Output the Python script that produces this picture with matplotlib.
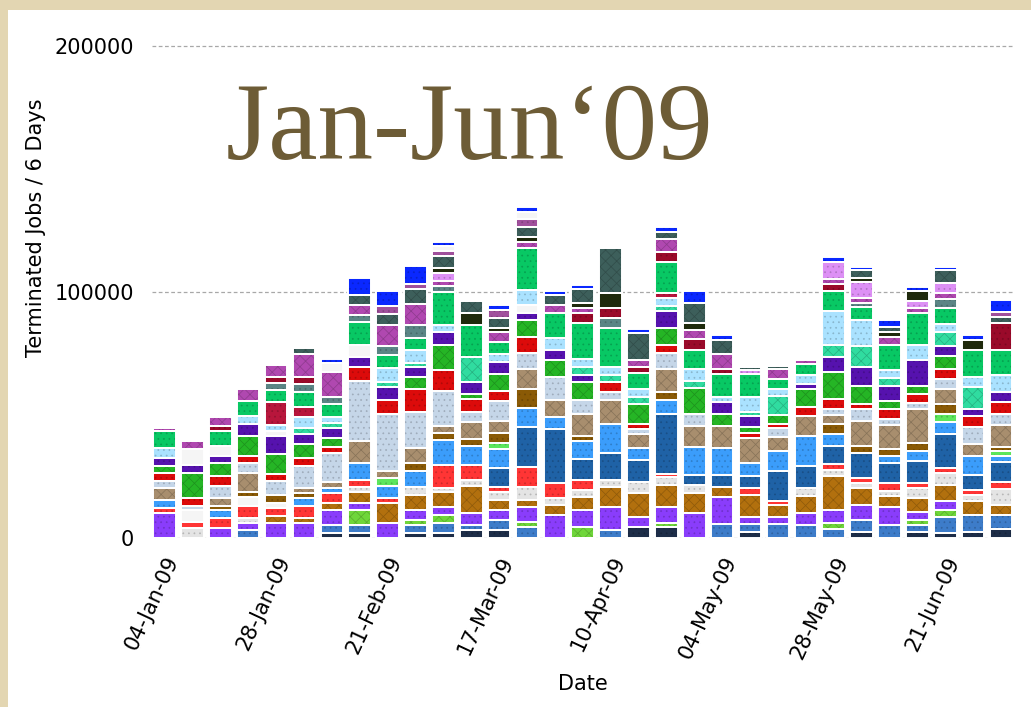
import matplotlib
matplotlib.use("Agg")
import matplotlib.pyplot as plt
import matplotlib.transforms as mtransforms
from matplotlib.colors import to_rgb
from matplotlib.patches import Rectangle

# terminated jobs per 6-day bin, in thousands, one list per site (bottom -> top)
navy = [0, 0, 0, 0, 0, 0, 1.9, 2.2, 0, 2.2, 2.2, 3.3, 3.3, 0, 0, 0, 0, 4.3, 4.3, 0, 0, 2.6, 0, 0, 0, 2.6, 0, 2.6, 2.2, 2.6, 3.5]
steel = [0, 0, 0, 3.3, 0, 0, 3.4, 3.1, 0, 3.1, 4.1, 2.0, 4.1, 4.3, 0, 0, 3.3, 0, 0, 0, 5.7, 3.1, 5.7, 5.3, 3.5, 4.7, 5.3, 2.7, 6.2, 6.8, 5.8]
lime = [0, 0, 0, 0, 0, 0, 0, 6.1, 0, 2.0, 3.1, 0, 0, 2.3, 0, 4.3, 0, 0, 1.9, 0, 0, 0, 0, 0, 2.7, 0, 0, 2.0, 3.0, 0, 0]
violet = [10.3, 0, 4.2, 2.7, 6.2, 6.2, 6.1, 3.0, 6.2, 4.1, 3.1, 5.0, 4.1, 6.1, 9.3, 7.0, 9.2, 4.1, 6.2, 10.3, 10.8, 2.7, 2.7, 5.0, 5.1, 6.1, 7.2, 3.4, 3.8, 0, 0]
ochre = [0, 0, 0, 0, 2.8, 2.0, 3.0, 4.1, 8.1, 6.1, 6.0, 10.8, 4.1, 2.7, 4.1, 5.4, 8.1, 10.0, 9.1, 8.1, 4.1, 9.1, 5.0, 6.8, 13.8, 6.8, 4.6, 5.4, 6.4, 5.8, 4.1]
dots = [0, 4.2, 0, 2.3, 0, 0, 0, 2.2, 0, 3.1, 1.8, 2.4, 3.0, 5.4, 2.7, 2.7, 3.0, 4.5, 3.1, 3.1, 0, 0, 0, 3.1, 2.4, 2.3, 2.2, 4.1, 5.0, 2.3, 6.4]
red = [2.0, 2.5, 4.1, 4.9, 3.3, 4.9, 3.8, 3.0, 1.8, 0, 9.5, 6.1, 2.2, 8.1, 6.1, 4.1, 0, 0, 1.6, 0, 0, 2.7, 1.8, 0, 2.7, 1.8, 3.0, 2.0, 1.8, 2.0, 3.1]
ghost = [0, 4.7, 0, 3.3, 2.0, 0, 0, 0, 0, 0, 0, 0, 0, 0, 0, 0, 0, 0, 0, 0, 0, 0, 0, 0, 0, 0, 0, 0, 0, 0, 0]
royal = [0, 0, 0, 0, 0, 0, 0, 0, 0, 0, 0, 0, 7.7, 16.3, 22.0, 8.8, 10.8, 8.8, 24.4, 4.1, 5.0, 5.0, 12.2, 9.1, 7.0, 10.2, 8.1, 9.2, 14.0, 6.1, 8.1]
sky = [3.1, 0, 3.1, 0, 0, 3.3, 2.0, 6.8, 5.1, 6.8, 9.9, 7.7, 7.5, 7.5, 5.1, 7.2, 11.9, 4.7, 5.7, 11.5, 10.8, 5.4, 8.1, 12.2, 4.9, 0, 3.0, 4.1, 4.6, 7.7, 2.3]
spring = [0, 0, 0, 0, 0, 0, 0, 0, 3.0, 0, 0, 0, 2.7, 0, 0, 0, 0, 0, 0, 0, 0, 0, 0, 0, 0, 0, 0, 0, 3.5, 0, 2.2]
brown = [0, 0, 1.8, 2.0, 3.1, 2.0, 0, 0, 0, 3.0, 3.0, 3.1, 4.1, 7.7, 0, 1.9, 0, 0, 3.1, 0, 0, 0, 0, 0, 4.1, 3.0, 2.7, 3.0, 4.1, 0, 1.6]
tan = [4.9, 0, 3.0, 7.9, 0, 1.8, 2.7, 8.8, 3.1, 6.1, 2.7, 6.8, 4.7, 8.1, 7.0, 9.2, 9.8, 5.8, 9.1, 8.4, 9.1, 9.9, 5.7, 7.9, 3.7, 9.9, 9.9, 13.8, 6.0, 5.1, 8.8]
pale = [3.0, 1.8, 5.1, 4.1, 5.8, 9.2, 11.5, 24.4, 23.3, 14.9, 14.2, 4.1, 8.1, 6.8, 9.2, 5.7, 3.1, 2.3, 6.8, 5.1, 0, 0, 3.4, 0, 2.7, 5.0, 2.3, 2.4, 4.1, 6.8, 4.5]
scarlet = [3.0, 3.2, 3.9, 3.0, 3.0, 3.0, 2.7, 5.8, 5.7, 9.1, 8.8, 5.1, 4.1, 6.5, 0, 0, 4.3, 2.0, 3.1, 0, 0, 2.0, 1.8, 3.8, 4.1, 2.2, 4.1, 3.8, 4.1, 4.3, 5.0]
green = [3.0, 9.9, 5.1, 7.9, 8.1, 5.8, 3.4, 0, 0, 5.1, 10.2, 2.0, 6.8, 6.8, 6.8, 7.2, 0, 8.1, 6.8, 10.2, 5.1, 2.7, 3.7, 7.3, 10.8, 7.0, 3.1, 3.3, 5.1, 0, 0]
indigo = [3.1, 3.5, 3.0, 5.1, 7.0, 4.1, 4.1, 4.1, 5.1, 4.1, 5.0, 5.0, 5.0, 2.7, 4.1, 2.7, 0, 0, 7.2, 0, 4.7, 4.3, 0, 2.2, 6.1, 7.9, 6.1, 10.6, 4.1, 3.1, 4.1]
haze = [0, 6.4, 4.1, 0, 2.0, 0, 0, 5.0, 0, 0, 0, 0, 0, 3.4, 0, 0, 0, 0, 0, 0, 0, 0, 0, 0, 0, 0, 0, 0, 0, 0, 0]
teal = [0, 0, 0, 0, 0, 2.3, 2.0, 0, 2.0, 1.6, 0, 10.2, 0, 0, 0, 3.4, 2.7, 2.7, 1.9, 3.1, 0, 1.8, 7.5, 0, 4.7, 8.4, 3.4, 0, 5.7, 8.8, 0]
cyan = [4.1, 0, 0, 3.0, 2.8, 4.7, 2.7, 0, 5.8, 5.1, 3.1, 0, 3.1, 6.1, 5.1, 3.0, 3.4, 3.4, 3.1, 4.6, 2.0, 6.1, 3.0, 3.7, 14.0, 10.8, 3.4, 6.1, 3.1, 4.1, 6.8]
rose = [0, 0, 0, 0, 9.1, 4.1, 0, 0, 0, 0, 0, 0, 0, 0, 0, 0, 0, 0, 2.0, 0, 0, 0, 0, 0, 0, 0, 0, 0, 0, 0, 0]
mint = [6.8, 0, 6.1, 6.1, 5.0, 5.8, 5.1, 9.1, 5.0, 5.1, 13.1, 12.9, 5.0, 16.9, 10.0, 14.9, 15.6, 6.4, 12.9, 8.1, 9.2, 9.2, 4.1, 4.3, 8.1, 5.1, 10.2, 12.9, 6.8, 10.8, 10.2]
sage = [0, 0, 0, 0, 3.0, 3.4, 3.0, 3.1, 3.8, 5.0, 2.7, 0, 0, 0, 0, 0, 4.3, 0, 0, 0, 0, 0, 0, 0, 0, 1.9, 0, 0, 3.4, 0, 0]
crimson = [0, 0, 2.0, 0, 2.2, 3.0, 0, 0, 0, 0, 0, 0, 0, 0, 0, 3.8, 3.8, 2.4, 4.1, 4.1, 2.0, 0, 0, 0, 3.0, 0, 0, 0, 0, 0, 11.1]
magenta = [1.5, 3.3, 3.8, 5.0, 5.0, 9.0, 10.2, 4.1, 8.4, 8.8, 1.8, 0, 4.1, 2.7, 3.1, 2.0, 0, 3.0, 5.1, 3.8, 6.1, 0, 3.8, 1.5, 2.0, 1.8, 3.1, 2.0, 2.7, 0, 0]
lilac = [0, 0, 0, 0, 0, 0, 0, 0, 0, 0, 3.4, 0, 0, 0, 0, 0, 0, 0, 0, 0, 0, 1.6, 0, 0, 6.8, 6.4, 0, 3.1, 4.1, 0, 0]
black = [0, 0, 0, 0, 0, 0, 0, 0, 0, 0, 2.0, 4.9, 1.8, 2.0, 0, 2.3, 6.1, 0, 0, 3.0, 0, 0, 0, 0, 0, 1.8, 1.9, 4.1, 0, 4.3, 0]
slate = [0, 0, 0, 0, 0, 2.8, 0, 3.8, 4.7, 6.1, 5.0, 4.9, 4.1, 4.1, 4.3, 5.8, 18.3, 10.8, 3.0, 8.1, 6.0, 1.5, 1.5, 0, 0, 3.1, 2.2, 0, 5.0, 0, 2.2]
plum = [0, 0, 0, 0, 0, 0, 0, 0, 3.4, 2.0, 1.8, 0, 3.1, 3.0, 0, 0, 0, 0, 0, 0, 0, 0, 0, 0, 0, 0, 0, 0, 0, 0, 1.9]
void = [0, 0, 0, 0, 0, 0, 3.5, 0, 0, 0, 2.3, 0, 0, 3.1, 0, 0, 0, 0, 0, 0, 0, 0, 0, 0, 0, 0, 0, 0, 0, 0, 0]
blue = [0, 0, 0, 0, 0, 0, 1.5, 7.0, 5.8, 7.0, 1.5, 0, 1.9, 2.0, 1.5, 1.5, 0, 1.5, 2.0, 4.9, 1.8, 0, 0, 0, 2.0, 1.5, 3.0, 1.5, 1.5, 1.8, 5.1]

series = [navy, steel, lime, violet, ochre, dots, red, ghost, royal, sky, spring,
          brown, tan, pale, scarlet, green, indigo, haze, teal, cyan, rose, mint,
          sage, crimson, magenta, lilac, black, slate, plum, void, blue]
colors = ['#1d2d48', '#3d7cc9', '#6fd63a', '#8a3dfb', '#b2700e', '#e4e4e4', '#ff3535',
          '#f5f5f5', '#1f62a6', '#3b9dfb', '#5ce65c', '#8a5a06', '#a88e6e', '#c5d6e8',
          '#dc0b0b', '#25b525', '#5612ae', '#f5f5f5', '#30dca0', '#aae2ff', '#b8163c',
          '#08c864', '#5b8585', '#9a0a2a', '#b048b0', '#dd90f5', '#1f2a0c', '#3d5f5b',
          '#a0509c', '#f5f5f5', '#0a28ff']
hatches = ['...', '...', 'xxx', '...', 'xxx', '...', '...', '', '...', '...', '...', '...',
           'xxx', '...', '...', 'xxx', '...', '', 'xxx', '...', '...', '...', '...', '...',
           'xxx', '...', '', 'xxx', '...', '', '...']

tick_labels = ['04-Jan-09', '28-Jan-09', '21-Feb-09', '17-Mar-09',
               '10-Apr-09', '04-May-09', '28-May-09', '21-Jun-09']
tick_every = 4

plt.rcParams['font.family'] = ['DejaVu Sans']
plt.rcParams['hatch.linewidth'] = 0.5

fig = plt.figure(figsize=(10.31, 7.07), dpi=100, facecolor='#e3d6b2')
fig.patches.append(Rectangle((8 / 1031, 0), 1, 697 / 707, transform=fig.transFigure,
                             facecolor='white', edgecolor='none', zorder=-5))
ax = fig.add_axes([152 / 1031, 169 / 707, 863 / 1031, 504.3 / 707])
ax.set_facecolor('none')

x = list(range(len(navy)))
bottom = [0.0] * len(x)
for vals, c, h in zip(series, colors, hatches):
    shade = tuple(v * 0.8 for v in to_rgb(c))
    ax.bar(x, [v * 1000 for v in vals], bottom=[b * 1000 for b in bottom], width=0.81,
           color=c, edgecolor=shade, linewidth=0, hatch=h, zorder=2)
    ax.bar(x, [v * 1000 for v in vals], bottom=[b * 1000 for b in bottom], width=0.81,
           facecolor='none', edgecolor='white', linewidth=1.4, zorder=3)
    bottom = [b + v for b, v in zip(bottom, vals)]

ax.set_xlim(-0.448, 30.5)
ax.set_ylim(0, 205000)
ax.set_yticks([0, 100000, 200000])
ax.set_yticklabels(['0', '100000', '200000'], fontsize=15)
ax.yaxis.grid(True, linestyle=(0, (3, 2)), color='#a8a8a8', linewidth=0.9)
ax.set_axisbelow(True)
for s in ax.spines.values():
    s.set_visible(False)
ax.tick_params(axis='both', length=0)
ax.tick_params(axis='y', pad=13)

ax.set_xticks(x[::tick_every])
ax.set_xticklabels(tick_labels, fontsize=15, rotation=65, ha='right', va='center',
                   rotation_mode='anchor')
ax.tick_params(axis='x', pad=14)
offset = mtransforms.ScaledTranslation(9 / 100, 0, fig.dpi_scale_trans)
for lab in ax.get_xticklabels():
    lab.set_transform(lab.get_transform() + offset)

fig.text(36 / 1031, 1 - 228 / 707, 'Terminated Jobs / 6 Days', rotation=90,
         fontsize=15, ha='center', va='center')
fig.text(583 / 1031, 1 - 684 / 707, 'Date', fontsize=15, ha='center', va='center')
fig.text(226 / 1031, 1 - 159 / 707, 'Jan-Jun\u201809', fontsize=80,
         family=['Liberation Serif', 'DejaVu Serif'], color='#6d5c36',
         ha='left', va='baseline')

fig.savefig('out.png', dpi=100, facecolor=fig.get_facecolor())
